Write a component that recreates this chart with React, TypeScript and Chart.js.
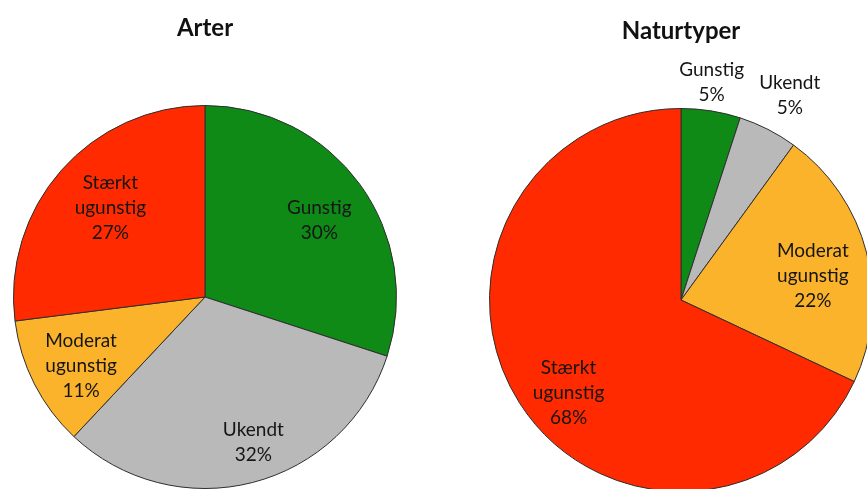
import React, { useEffect, useRef } from "react";
import { Chart, registerables } from "chart.js";

Chart.register(...registerables);

const categories = ["Gunstig", "Ukendt", "Moderat ugunstig", "Stærkt ugunstig"];
const arterValues = [30, 32, 11, 27];
const naturtyperValues = [5, 5, 22, 68];
const titles = ["Arter", "Naturtyper"];

const colors = ["#0f8a17", "#b9b9b9", "#fbb32b", "#ff2a00"];
const FONT = "Lato, 'Open Sans', sans-serif";
const TITLE_SIZE = 24;

const labelPlugin = {
  id: "sliceLabels",
  afterDatasetsDraw(chart: any, _args: any, opts: any) {
    const ctx = chart.ctx;
    const meta = chart.getDatasetMeta(0);
    const data = chart.data.datasets[0].data as number[];
    const total = data.reduce((a: number, b: number) => a + b, 0);
    ctx.save();
    ctx.fillStyle = "#151515";
    ctx.font = `19px ${FONT}`;
    ctx.textAlign = "center";
    ctx.textBaseline = "middle";
    meta.data.forEach((arc: any, i: number) => {
      const p = arc.getProps(["x", "y", "startAngle", "endAngle", "outerRadius"], true);
      const mid = (p.startAngle + p.endAngle) / 2 + ((opts.angleOffset?.[i] ?? 0) * Math.PI) / 180;
      const r = p.outerRadius * (opts.radius?.[i] ?? 0.7);
      const cx = p.x + Math.cos(mid) * r;
      const cy = p.y + Math.sin(mid) * r;
      const lines = [...String(chart.data.labels[i]).split(" "), `${Math.round((data[i] / total) * 100)}%`];
      const lh = 25;
      lines.forEach((t: string, k: number) => {
        ctx.fillText(t, cx, cy + (k - (lines.length - 1) / 2) * lh);
      });
    });
    ctx.restore();
  },
};

function PieCanvas(props: {
  values: number[];
  title: string;
  left: number;
  top: number;
  titleTop: number;
  radius: number[];
  angleOffset: number[];
}) {
  const ref = useRef<HTMLCanvasElement | null>(null);
  useEffect(() => {
    if (!ref.current) return;
    const chart = new Chart(ref.current, {
      type: "pie",
      data: {
        labels: categories,
        datasets: [
          {
            data: props.values,
            backgroundColor: colors,
            borderColor: "#2e2e2e",
            borderWidth: 1,
          },
        ],
      },
      options: {
        responsive: false,
        animation: false,
        events: [],
        layout: { padding: { left: 13, right: 13, top: 0, bottom: 11 } },
        plugins: {
          legend: { display: false },
          tooltip: { enabled: false },
          title: {
            display: true,
            text: props.title,
            color: "#111",
            font: { family: FONT, size: TITLE_SIZE, weight: "bold" },
            padding: { top: props.titleTop, bottom: 105 - props.titleTop - TITLE_SIZE * 1.2 },
          },
          sliceLabels: { radius: props.radius, angleOffset: props.angleOffset },
        } as any,
      },
      plugins: [labelPlugin],
    });
    return () => chart.destroy();
  }, []);
  return (
    <canvas
      ref={ref}
      width={410}
      height={500}
      style={{ position: "absolute", left: props.left, top: props.top }}
    />
  );
}

export default function App() {
  return (
    <div
      style={{
        position: "fixed",
        left: 0,
        top: 0,
        width: 867,
        height: 489,
        overflow: "hidden",
        background: "#fff",
      }}
    >
      <PieCanvas
        values={arterValues}
        title={titles[0]}
        left={0}
        top={0}
        titleTop={14}
        radius={[0.72, 0.8, 0.74, 0.68]}
        angleOffset={[2, -4, -2, 2]}
      />
      <PieCanvas
        values={naturtyperValues}
        title={titles[1]}
        left={476}
        top={3}
        titleTop={14}
        radius={[1.15, 1.21, 0.7, 0.76]}
        angleOffset={[-1, 1, 4, -7]}
      />
    </div>
  );
}
